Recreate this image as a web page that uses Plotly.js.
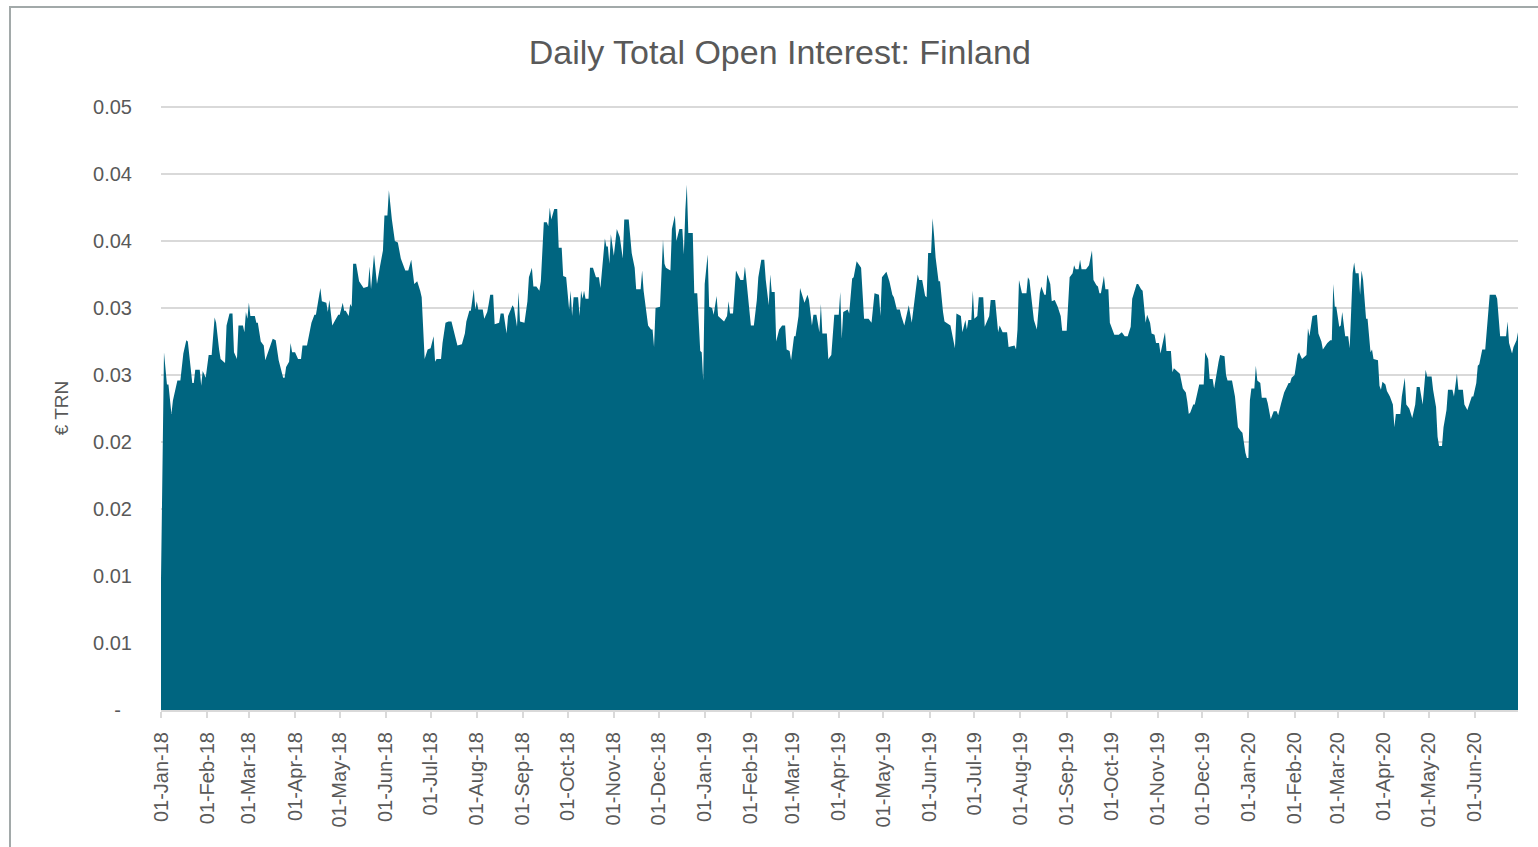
<!DOCTYPE html>
<html>
<head>
<meta charset="utf-8">
<script src="https://cdn.plot.ly/plotly-3.0.1.min.js"></script>
<style>
  body { margin: 0; background: #ffffff; overflow: hidden; }
  #chart { width: 1538px; height: 847px; }
  #frame { position: absolute; left: 9px; top: 6px; width: 1600px; height: 900px;
           border-left: 2px solid #a2a9a9; border-top: 2px solid #a2a9a9; pointer-events: none; }
</style>
</head>
<body>
<div id="chart"></div>
<div id="frame"></div>
<script>
// daily open interest (EUR trillion); dates as MM-DD per year
var days2018 = ["01-01","01-03","01-05","01-06","01-08","01-09","01-12","01-14","01-16","01-18","01-19","01-22","01-23","01-24","01-27","01-28","01-29","01-31",
  "02-02","02-04","02-06","02-07","02-09","02-10","02-13","02-14","02-16","02-18","02-19","02-21","02-22","02-25","02-26","02-27","02-28",
  "03-01","03-02","03-05","03-06","03-07","03-09","03-11","03-12","03-15","03-17","03-19","03-21","03-24","03-25","03-26","03-28","03-29","03-30",
  "04-01","04-03","04-05","04-06","04-09","04-10","04-12","04-14","04-15","04-18","04-19","04-22","04-23","04-24","04-26","04-28","04-30",
  "05-01","05-03","05-04","05-05","05-07","05-08","05-09","05-10","05-12","05-14","05-17","05-20","05-21","05-22","05-24","05-26","05-28","05-30","05-31",
  "06-02","06-03","06-05","06-07","06-09","06-11","06-14","06-16","06-18","06-20","06-22","06-24","06-25","06-27","06-29",
  "07-01","07-03","07-04","07-05","07-08","07-09","07-11","07-13","07-15","07-17","07-19","07-22","07-24","07-25","07-27","07-28","07-30","07-31",
  "08-01","08-02","08-05","08-06","08-08","08-09","08-10","08-12","08-13","08-16","08-17","08-19","08-21","08-22","08-25","08-26","08-28","08-29","08-30",
  "09-02","09-04","09-05","09-07","09-08","09-10","09-12","09-13","09-15","09-17","09-18","09-19","09-20","09-22","09-24","09-25","09-27","09-28","09-30",
  "10-02","10-03","10-04","10-05","10-08","10-09","10-10","10-11","10-12","10-13","10-15","10-16","10-18","10-20","10-22","10-23","10-24","10-26","10-27","10-28","10-29","10-30",
  "11-01","11-03","11-05","11-07","11-08","11-11","11-13","11-15","11-16","11-19","11-20","11-21","11-24","11-26","11-27","11-28","11-29",
  "12-02","12-04","12-05","12-06","12-09","12-10","12-12","12-13","12-15","12-17","12-18","12-19","12-20","12-21","12-24","12-25","12-27","12-29","12-30","12-31"];
var oi2018 = [0.0097,0.0267,0.0243,0.0243,0.0221,0.0231,0.0246,0.0246,0.0266,0.0276,0.0275,0.0244,0.0244,0.0254,0.0254,0.0242,0.0253,0.0248,
  0.0265,0.0265,0.0293,0.0289,0.0269,0.0262,0.0259,0.0287,0.0296,0.0296,0.0267,0.0262,0.0287,0.0287,0.0282,0.0297,0.0292,
  0.0304,0.0294,0.0294,0.0289,0.0289,0.0275,0.0272,0.0261,0.0271,0.0277,0.0276,0.0261,0.0248,0.0248,0.0256,0.0260,0.0274,0.0267,
  0.0267,0.0262,0.0262,0.0272,0.0272,0.0277,0.0289,0.0295,0.0295,0.0315,0.0305,0.0304,0.0297,0.0306,0.0287,0.0291,0.0295,
  0.0295,0.0304,0.0298,0.0298,0.0294,0.0303,0.0301,0.0333,0.0333,0.0320,0.0315,0.0316,0.0331,0.0314,0.0340,0.0318,0.0331,0.0343,0.0369,
  0.0369,0.0388,0.0366,0.0350,0.0349,0.0337,0.0328,0.0328,0.0336,0.0318,0.0320,0.0313,0.0308,0.0262,0.0269,
  0.0270,0.0279,0.0260,0.0262,0.0262,0.0274,0.0289,0.0290,0.0290,0.0280,0.0272,0.0273,0.0281,0.0290,0.0298,0.0298,0.0314,0.0299,
  0.0305,0.0299,0.0299,0.0292,0.0297,0.0303,0.0310,0.0310,0.0288,0.0289,0.0296,0.0296,0.0281,0.0294,0.0302,0.0300,0.0286,0.0312,0.0290,
  0.0289,0.0305,0.0323,0.0330,0.0316,0.0316,0.0313,0.0320,0.0364,0.0364,0.0361,0.0375,0.0366,0.0374,0.0374,0.0345,0.0345,0.0324,0.0323,
  0.0299,0.0313,0.0294,0.0308,0.0308,0.0294,0.0313,0.0307,0.0313,0.0307,0.0307,0.0330,0.0330,0.0323,0.0323,0.0315,0.0328,0.0352,0.0346,0.0346,0.0333,0.0355,
  0.0339,0.0359,0.0353,0.0337,0.0366,0.0366,0.0341,0.0330,0.0314,0.0314,0.0328,0.0313,0.0287,0.0284,0.0284,0.0271,0.0300,
  0.0301,0.0351,0.0333,0.0330,0.0328,0.0359,0.0369,0.0350,0.0359,0.0359,0.0340,0.0373,0.0392,0.0356,0.0356,0.0311,0.0311,0.0268,0.0267,0.0246];

var days2019 = ["01-01","01-03","01-04","01-06","01-07","01-09","01-10","01-12","01-14","01-16","01-17","01-18","01-20","01-22","01-25","01-27","01-28","01-29","01-30",
  "02-01","02-03","02-05","02-06","02-08","02-10","02-11","02-13","02-14","02-15","02-17","02-18","02-20","02-22","02-24","02-25","02-27","02-28",
  "03-02","03-03","03-05","03-06","03-09","03-11","03-12","03-14","03-15","03-17","03-19","03-20","03-21","03-24","03-25","03-27","03-29",
  "04-01","04-02","04-03","04-04","04-07","04-08","04-10","04-11","04-13","04-14","04-16","04-18","04-21","04-23","04-25","04-28","04-29","04-30",
  "05-03","05-05","05-07","05-08","05-10","05-12","05-13","05-15","05-18","05-20","05-24","05-25","05-27","05-28","05-29","05-30","05-31",
  "06-02","06-03","06-04","06-05","06-07","06-08","06-10","06-11","06-15","06-17","06-18","06-19","06-22","06-23","06-25","06-26","06-27","06-29","06-30",
  "07-01","07-03","07-04","07-07","07-08","07-11","07-12","07-15","07-17","07-18","07-20","07-23","07-24","07-28","07-29","07-30","07-31",
  "08-02","08-05","08-06","08-07","08-09","08-10","08-12","08-14","08-15","08-17","08-18","08-19","08-21","08-22","08-24","08-26","08-28","08-29",
  "09-01","09-03","09-05","09-06","09-07","09-09","09-10","09-11","09-14","09-16","09-18","09-19","09-21","09-22","09-23","09-24","09-26","09-27","09-29","09-30",
  "10-01","10-03","10-06","10-08","10-10","10-12","10-14","10-15","10-18","10-19","10-21","10-22","10-24","10-25","10-27","10-28","10-30","10-31",
  "11-02","11-03","11-06","11-07","11-10","11-11","11-12","11-15","11-16","11-18","11-20","11-21","11-22","11-23","11-25","11-26","11-28","11-29",
  "12-02","12-03","12-05","12-06","12-08","12-09","12-12","12-13","12-16","12-17","12-18","12-21","12-23","12-25","12-27","12-28","12-30","12-31"];
var oi2019 = [0.0318,0.0340,0.0301,0.0300,0.0295,0.0309,0.0294,0.0292,0.0290,0.0294,0.0305,0.0296,0.0296,0.0328,0.0321,0.0321,0.0331,0.0321,0.0308,
  0.0287,0.0287,0.0306,0.0323,0.0336,0.0336,0.0321,0.0302,0.0325,0.0312,0.0312,0.0275,0.0284,0.0287,0.0287,0.0269,0.0268,0.0261,
  0.0279,0.0279,0.0294,0.0315,0.0304,0.0310,0.0306,0.0287,0.0295,0.0295,0.0282,0.0303,0.0281,0.0281,0.0262,0.0265,0.0295,
  0.0295,0.0312,0.0277,0.0297,0.0299,0.0296,0.0322,0.0323,0.0335,0.0333,0.0330,0.0292,0.0292,0.0289,0.0311,0.0310,0.0294,0.0323,
  0.0327,0.0320,0.0310,0.0308,0.0299,0.0299,0.0294,0.0287,0.0302,0.0289,0.0325,0.0321,0.0321,0.0315,0.0309,0.0308,0.0341,
  0.0341,0.0367,0.0354,0.0338,0.0320,0.0320,0.0297,0.0290,0.0287,0.0274,0.0270,0.0296,0.0294,0.0282,0.0291,0.0284,0.0291,0.0291,0.0313,
  0.0292,0.0294,0.0308,0.0308,0.0286,0.0294,0.0306,0.0306,0.0282,0.0287,0.0282,0.0282,0.0271,0.0272,0.0269,0.0284,0.0321,
  0.0311,0.0311,0.0323,0.0321,0.0297,0.0291,0.0284,0.0311,0.0316,0.0310,0.0310,0.0325,0.0318,0.0305,0.0306,0.0301,0.0294,0.0283,
  0.0283,0.0323,0.0326,0.0332,0.0329,0.0329,0.0336,0.0329,0.0329,0.0332,0.0343,0.0321,0.0317,0.0316,0.0311,0.0311,0.0324,0.0314,0.0314,0.0289,
  0.0286,0.0280,0.0280,0.0282,0.0279,0.0279,0.0286,0.0307,0.0318,0.0318,0.0314,0.0313,0.0289,0.0295,0.0289,0.0281,0.0280,0.0274,
  0.0274,0.0266,0.0282,0.0268,0.0268,0.0252,0.0255,0.0252,0.0251,0.0240,0.0237,0.0230,0.0221,0.0222,0.0228,0.0228,0.0239,0.0243,
  0.0243,0.0267,0.0262,0.0247,0.0247,0.0240,0.0260,0.0265,0.0264,0.0250,0.0246,0.0246,0.0234,0.0211,0.0208,0.0207,0.0192,0.0188];

var days2020 = ["01-01","01-02","01-03","01-05","01-06","01-07","01-09","01-10","01-13","01-14","01-16","01-18","01-20","01-21","01-23","01-25","01-28","01-29","01-30",
  "02-01","02-03","02-04","02-06","02-09","02-10","02-11","02-13","02-16","02-17","02-19","02-20","02-22","02-23","02-25","02-26","02-27","02-28","02-29",
  "03-01","03-02","03-03","03-04","03-06","03-08","03-09","03-10","03-11","03-12","03-13","03-15","03-16","03-17","03-18","03-20","03-21","03-23","03-24","03-25","03-28","03-29","03-30","03-31",
  "04-02","04-03","04-05","04-07","04-08","04-09","04-12","04-13","04-15","04-16","04-18","04-20","04-22","04-23","04-25","04-27","04-29","04-30",
  "05-03","05-04","05-06","05-07","05-08","05-10","05-11","05-13","05-14","05-17","05-18","05-20","05-21","05-24","05-25","05-27","05-30","05-31",
  "06-02","06-03","06-04","06-06","06-08","06-11","06-15","06-16","06-18","06-22","06-23","06-24","06-26","06-27","06-29","06-30"];
var oi2020 = [0.0188,0.0231,0.0240,0.0240,0.0257,0.0246,0.0244,0.0233,0.0233,0.0229,0.0217,0.0223,0.0223,0.0220,0.0229,0.0237,0.0244,0.0244,0.0248,
  0.0250,0.0265,0.0267,0.0262,0.0265,0.0285,0.0279,0.0294,0.0295,0.0281,0.0275,0.0269,0.0273,0.0274,0.0276,0.0276,0.0318,0.0301,0.0301,
  0.0292,0.0286,0.0287,0.0297,0.0279,0.0279,0.0270,0.0294,0.0326,0.0334,0.0326,0.0326,0.0310,0.0328,0.0321,0.0292,0.0292,0.0267,0.0269,0.0262,0.0261,0.0242,0.0239,0.0245,
  0.0243,0.0238,0.0234,0.0228,0.0211,0.0221,0.0221,0.0234,0.0248,0.0228,0.0225,0.0218,0.0228,0.0241,0.0241,0.0228,0.0254,0.0249,
  0.0249,0.0239,0.0226,0.0204,0.0197,0.0197,0.0211,0.0224,0.0239,0.0239,0.0234,0.0251,0.0239,0.0239,0.0228,0.0224,0.0234,0.0234,
  0.0244,0.0257,0.0258,0.0269,0.0269,0.0310,0.0310,0.0307,0.0279,0.0279,0.0290,0.0274,0.0266,0.0271,0.0276,0.0282];

// y axis: Excel rounds the half-steps to two decimals
var yTickVals = [0, 0.005, 0.01, 0.015, 0.02, 0.025, 0.03, 0.035, 0.04, 0.045];
var yTickText = ["-\u00a0\u00a0", "0.01", "0.01", "0.02", "0.02", "0.03", "0.03", "0.04", "0.04", "0.05"];

var dates = days2018.map(d => "2018-" + d)
  .concat(days2019.map(d => "2019-" + d))
  .concat(days2020.map(d => "2020-" + d));
var values = oi2018.concat(oi2019, oi2020);

var font = "Liberation Sans, Arial, sans-serif";
var grey = "#595959";

var trace = {
  x: dates,
  y: values,
  type: "scatter",
  mode: "lines",
  line: { width: 0, color: "#006580" },
  fill: "tozeroy",
  fillcolor: "#006580",
  hoverinfo: "x+y"
};

var layout = {
  width: 1538,
  height: 847,
  margin: { l: 161, r: 20, t: 106, b: 137 },
  paper_bgcolor: "#ffffff",
  plot_bgcolor: "#ffffff",
  showlegend: false,
  font: { family: font, color: grey },
  title: {
    text: "Daily Total Open Interest: Finland",
    font: { family: font, size: 34, color: grey },
    x: 0.507, xanchor: "center", xref: "container",
    y: 0.938, yanchor: "middle", yref: "container"
  },
  xaxis: {
    type: "date",
    range: ["2018-01-01", "2020-06-30"],
    tick0: "2018-01-01",
    dtick: "M1",
    tickformat: "%d-%b-%y",
    tickangle: -90,
    tickfont: { size: 20, color: grey },
    ticks: "outside",
    ticklen: 6,
    tickwidth: 2,
    tickcolor: "#d9d9d9",
    ticklabelstandoff: 6,
    showgrid: false,
    zeroline: false,
    showline: true,
    linecolor: "#d9d9d9",
    linewidth: 2
  },
  yaxis: {
    title: { text: "€ TRN", font: { size: 19, color: grey }, standoff: 19 },
    range: [0, 0.04508],
    tickmode: "array",
    tickvals: yTickVals,
    ticktext: yTickText,
    tickfont: { size: 20, color: grey },
    ticklabelstandoff: 28,
    showgrid: true,
    gridcolor: "#d9d9d9",
    gridwidth: 1.5,
    zeroline: false,
    showline: false,
    ticks: ""
  }
};

Plotly.newPlot("chart", [trace], layout, { staticPlot: true });
</script>
</body>
</html>
